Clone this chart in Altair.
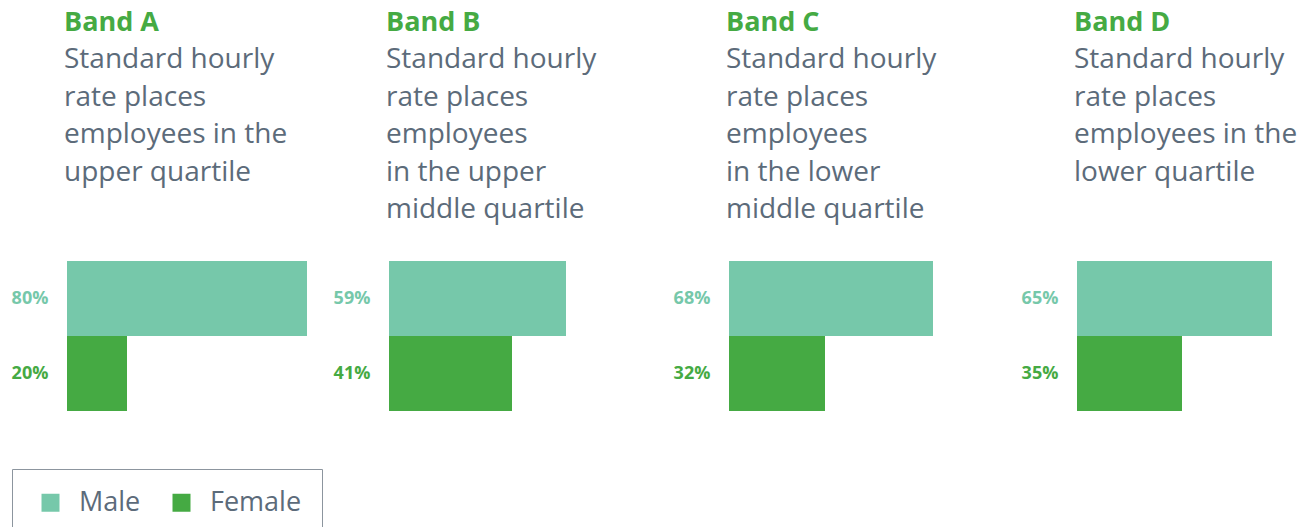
import altair as alt
import pandas as pd

bands = ["Band A", "Band B", "Band C", "Band D"]
subtitles = [
    "Standard hourly\nrate places\nemployees in the\nupper quartile",
    "Standard hourly\nrate places\nemployees\nin the upper\nmiddle quartile",
    "Standard hourly\nrate places\nemployees\nin the lower\nmiddle quartile",
    "Standard hourly\nrate places\nemployees in the\nlower quartile",
]
male_pct = [80, 59, 68, 65]
female_pct = [20, 41, 32, 35]
sexes = ["Male", "Female"]
colors = ["#76c8aa", "#45aa43"]

FONT = "Open Sans"
TEXT_GRAY = "#5c6b7a"

panel_widths = [322, 340, 348, 288]
bar_offset = 59
px_per_pct = 3.0

rows = []
for b, m, f in zip(bands, male_pct, female_pct):
    rows.append({"band": b, "sex": "Male", "value": m})
    rows.append({"band": b, "sex": "Female", "value": f})
bars_df = pd.DataFrame(rows)
text_df = pd.DataFrame({"band": bands, "subtitle": subtitles})

color_scale = alt.Scale(domain=sexes, range=colors)


def panel(i):
    b = bands[i]
    w = panel_widths[i]
    xs = alt.Scale(domain=[-bar_offset / px_per_pct, (w - bar_offset) / px_per_pct],
                   nice=False, zero=False)
    ys = alt.Scale(domain=sexes, range=[253, 403], paddingInner=0, paddingOuter=0)
    base = alt.Chart(bars_df).transform_filter(alt.datum.band == b)
    bars = base.mark_bar().encode(
        x=alt.X("value:Q", scale=xs, axis=None, stack=None),
        x2=alt.datum(0),
        y=alt.Y("sex:N", scale=ys, axis=None, sort=sexes),
        color=alt.Color("sex:N", scale=color_scale,
                        legend=alt.Legend(title=None, orient="none", legendX=4,
                                          legendY=461, direction="horizontal")),
    )
    labels = base.transform_calculate(
        label="format(datum.value, 'd') + '%'"
    ).mark_text(font=FONT, fontWeight="bold", fontSize=18, align="center",
                baseline="middle").encode(
        x=alt.value(22),
        y=alt.Y("sex:N", scale=ys, axis=None, sort=sexes),
        text="label:N",
        color=alt.Color("sex:N", scale=color_scale, legend=None),
    )
    tbase = alt.Chart(text_df).transform_filter(alt.datum.band == b)
    title = tbase.mark_text(font=FONT, fontWeight="bold", fontSize=27, align="left",
                            baseline="alphabetic", color="#45aa43").encode(
        x=alt.value(56), y=alt.value(23), text="band:N")
    sub = tbase.mark_text(font=FONT, fontSize=28, align="left", baseline="alphabetic",
                          color=TEXT_GRAY, lineBreak="\n", lineHeight=37.5).encode(
        x=alt.value(56), y=alt.value(60), text="subtitle:N")
    return alt.layer(bars, labels, title, sub).properties(width=w, height=410)


chart = alt.hconcat(*[panel(i) for i in range(4)], spacing=0).resolve_scale(
    x="independent", y="shared", color="shared"
).properties(
    padding={"left": 0, "top": 0, "right": 0, "bottom": 0}
).configure_view(stroke=None).configure_legend(
    symbolType="square", symbolSize=324, symbolStrokeWidth=0,
    labelFont=FONT, labelFontSize=27, labelColor=TEXT_GRAY,
    labelOffset=15, columnPadding=22, padding=20, symbolOffset=5,
    strokeColor="#8c959e", fillColor="white", cornerRadius=0,
)

chart.save("out.html", embed_options={"renderer": "svg", "actions": False})
